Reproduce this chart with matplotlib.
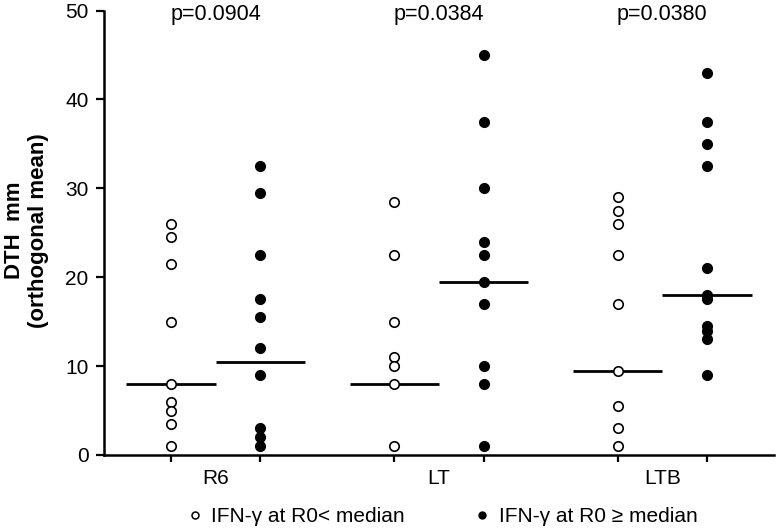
import matplotlib
matplotlib.use("Agg")
import matplotlib.pyplot as plt
from matplotlib.lines import Line2D

plt.rcParams['font.family'] = ['Liberation Sans', 'DejaVu Sans']

categories = ["R6", "LT", "LTB"]
p_values = ["p=0.0904", "p=0.0384", "p=0.0380"]

low_values = [
    [26, 24.5, 21.5, 15, 8, 6, 5, 3.5, 1],
    [28.5, 22.5, 15, 11, 10, 8, 1],
    [29, 27.5, 26, 22.5, 17, 9.5, 5.5, 3, 1],
]
high_values = [
    [32.5, 29.5, 22.5, 17.5, 15.5, 12, 9, 3, 2, 1],
    [45, 37.5, 30, 24, 22.5, 19.5, 17, 10, 8, 1],
    [43, 37.5, 35, 32.5, 21, 18, 17.5, 14.5, 14, 13, 9],
]
low_medians = [8, 8, 9.5]
high_medians = [10.5, 19.5, 18]

legend_labels = ["IFN-\u03b3 at R0< median", "IFN-\u03b3 at R0 \u2265 median"]
y_label = "DTH  mm\n(orthogonal mean)"

fig = plt.figure(figsize=(7.77, 5.31), dpi=100)
ax = fig.add_axes([104/777, 1 - 455/531, 670/777, 444.5/531])

off = 0.2
half = 0.2
for i, cat in enumerate(categories):
    c = i + 1
    xl, xh = c - off, c + off
    ax.plot([xl] * len(low_values[i]), low_values[i], 'o', ms=6.8,
            mfc='white', mec='black', mew=1.2, ls='none', clip_on=False, zorder=3)
    ax.plot([xh] * len(high_values[i]), high_values[i], 'o', ms=7.0,
            mfc='black', mec='black', mew=1.0, ls='none', clip_on=False, zorder=3)
    ax.plot([xl - half, xl + half], [low_medians[i]] * 2, color='black', lw=2.0,
            solid_capstyle='butt', zorder=2)
    ax.plot([xh - half, xh + half], [high_medians[i]] * 2, color='black', lw=2.0,
            solid_capstyle='butt', zorder=2)
    ax.text(c, 48.9, p_values[i], ha='center', va='baseline', fontsize=15.5, clip_on=False)

ax.set_xlim(0.5, 3.5)
ax.set_ylim(0, 50)
ax.set_yticks([0, 10, 20, 30, 40, 50])
ax.tick_params(axis='y', labelsize=15, length=6, width=1.6, pad=5)
ax.set_xticks([1, 2, 3])
ax.set_xticklabels(categories)
ax.tick_params(axis='x', which='major', length=0, labelsize=15, pad=10)
ax.set_xticks([c + d for c in (1, 2, 3) for d in (-off, off)], minor=True)
ax.tick_params(axis='x', which='minor', length=5, width=1.6, direction='out')

for s in ('top', 'right'):
    ax.spines[s].set_visible(False)
for s in ('left', 'bottom'):
    ax.spines[s].set_linewidth(1.8)

ax.set_ylabel(y_label, fontsize=16, fontweight='bold', linespacing=1.15)
ax.yaxis.label.set_va('center')
ax.yaxis.set_label_coords((26.5 - 104) / 670, 0.505)

handles = [
    Line2D([], [], marker='o', ls='none', ms=5, mfc='white', mec='black', mew=1.1),
    Line2D([], [], marker='o', ls='none', ms=5, mfc='black', mec='black'),
]
fig.legend(handles, legend_labels, loc='center', bbox_to_anchor=(441/777, 1 - 517/531),
           ncol=2, frameon=False, fontsize=15, handletextpad=0.3, columnspacing=3.2,
           handlelength=1.0)

fig.savefig("out.png", dpi=100)
